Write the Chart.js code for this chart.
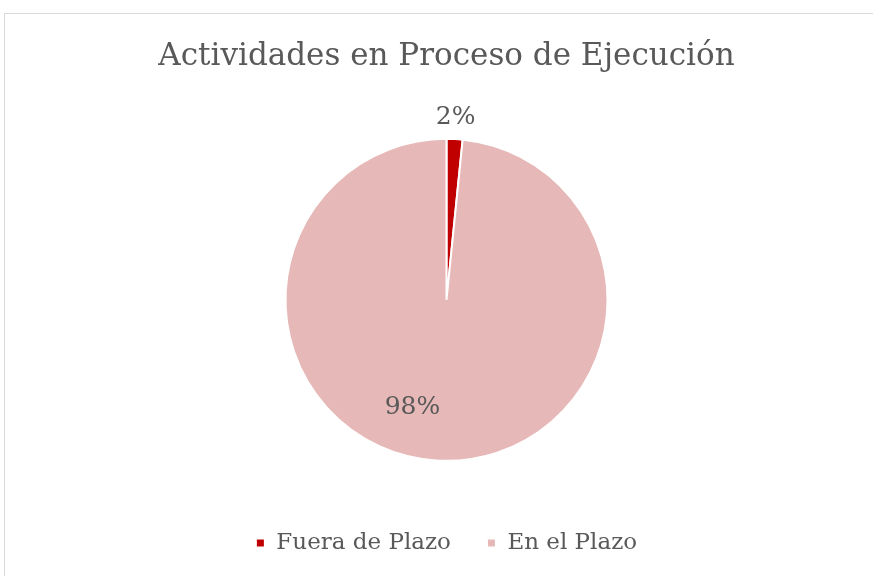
<!DOCTYPE html>
<html>
<head>
<meta charset="utf-8">
<script src="https://cdn.jsdelivr.net/npm/chart.js@4"></script>
<style>
html,body{margin:0;padding:0;background:#fff;}
#wrap{position:absolute;left:0;top:0;width:873px;height:576px;}
</style>
</head>
<body>
<div id="wrap"><canvas id="c" width="873" height="576"></canvas></div>
<script>
const chartTitle = 'Actividades en Proceso de Ejecución';
const categories = ['Fuera de Plazo', 'En el Plazo'];
const values = [1.6, 98.4];
const sliceColors = ['#C00000', '#E6B8B7'];

const SERIF = '"DejaVu Serif", "Liberation Serif", serif';
const TEXT = '#595959';

const borderPlugin = {
  id: 'frame',
  beforeDraw(chart) {
    const ctx = chart.ctx;
    ctx.save();
    ctx.strokeStyle = '#D9D9D9';
    ctx.lineWidth = 1;
    ctx.strokeRect(4.5, 13.5, chart.width + 20, chart.height + 20);
    ctx.restore();
  }
};

// label placement: small slices outside, big slice inside (Excel best fit look)
const labelPlugin = {
  id: 'pctLabels',
  afterDatasetsDraw(chart) {
    const ctx = chart.ctx;
    const meta = chart.getDatasetMeta(0);
    const data = chart.data.datasets[0].data;
    const total = data.reduce((a, b) => a + b, 0);
    ctx.save();
    ctx.font = '25px ' + SERIF;
    ctx.fillStyle = TEXT;
    ctx.textAlign = 'center';
    ctx.textBaseline = 'middle';
    meta.data.forEach((arc, i) => {
      const p = arc.getProps(['x', 'y', 'startAngle', 'endAngle', 'outerRadius'], true);
      const pct = data[i] / total * 100;
      let mid = (p.startAngle + p.endAngle) / 2;
      let dist;
      if (pct < 10) {
        dist = p.outerRadius + 22;
      } else {
        mid += 0.257;
        dist = p.outerRadius * 0.7;
      }
      const x = p.x + Math.cos(mid) * dist;
      const y = p.y + Math.sin(mid) * dist;
      ctx.fillText(Math.round(pct) + '%', x, y);
    });
    ctx.restore();
  }
};

new Chart(document.getElementById('c'), {
  type: 'pie',
  data: {
    labels: categories,
    datasets: [{
      data: values,
      backgroundColor: sliceColors,
      borderColor: '#FFFFFF',
      borderWidth: 2,
      radius: 161
    }]
  },
  options: {
    responsive: false,
    animation: false,
    layout: { padding: { top: 38, bottom: 11.5, left: 20, right: 0 } },
    plugins: {
      title: {
        display: true,
        text: chartTitle,
        color: TEXT,
        font: { family: SERIF, size: 31, weight: 'normal', lineHeight: 1.2 },
        padding: { top: 0, bottom: 29 }
      },
      legend: {
        position: 'bottom',
        labels: {
          color: TEXT,
          font: { family: SERIF, size: 23 },
          boxWidth: 9,
          boxHeight: 9,
          padding: 36
        }
      },
      tooltip: { enabled: false }
    }
  },
  plugins: [borderPlugin, labelPlugin]
});
</script>
</body>
</html>
